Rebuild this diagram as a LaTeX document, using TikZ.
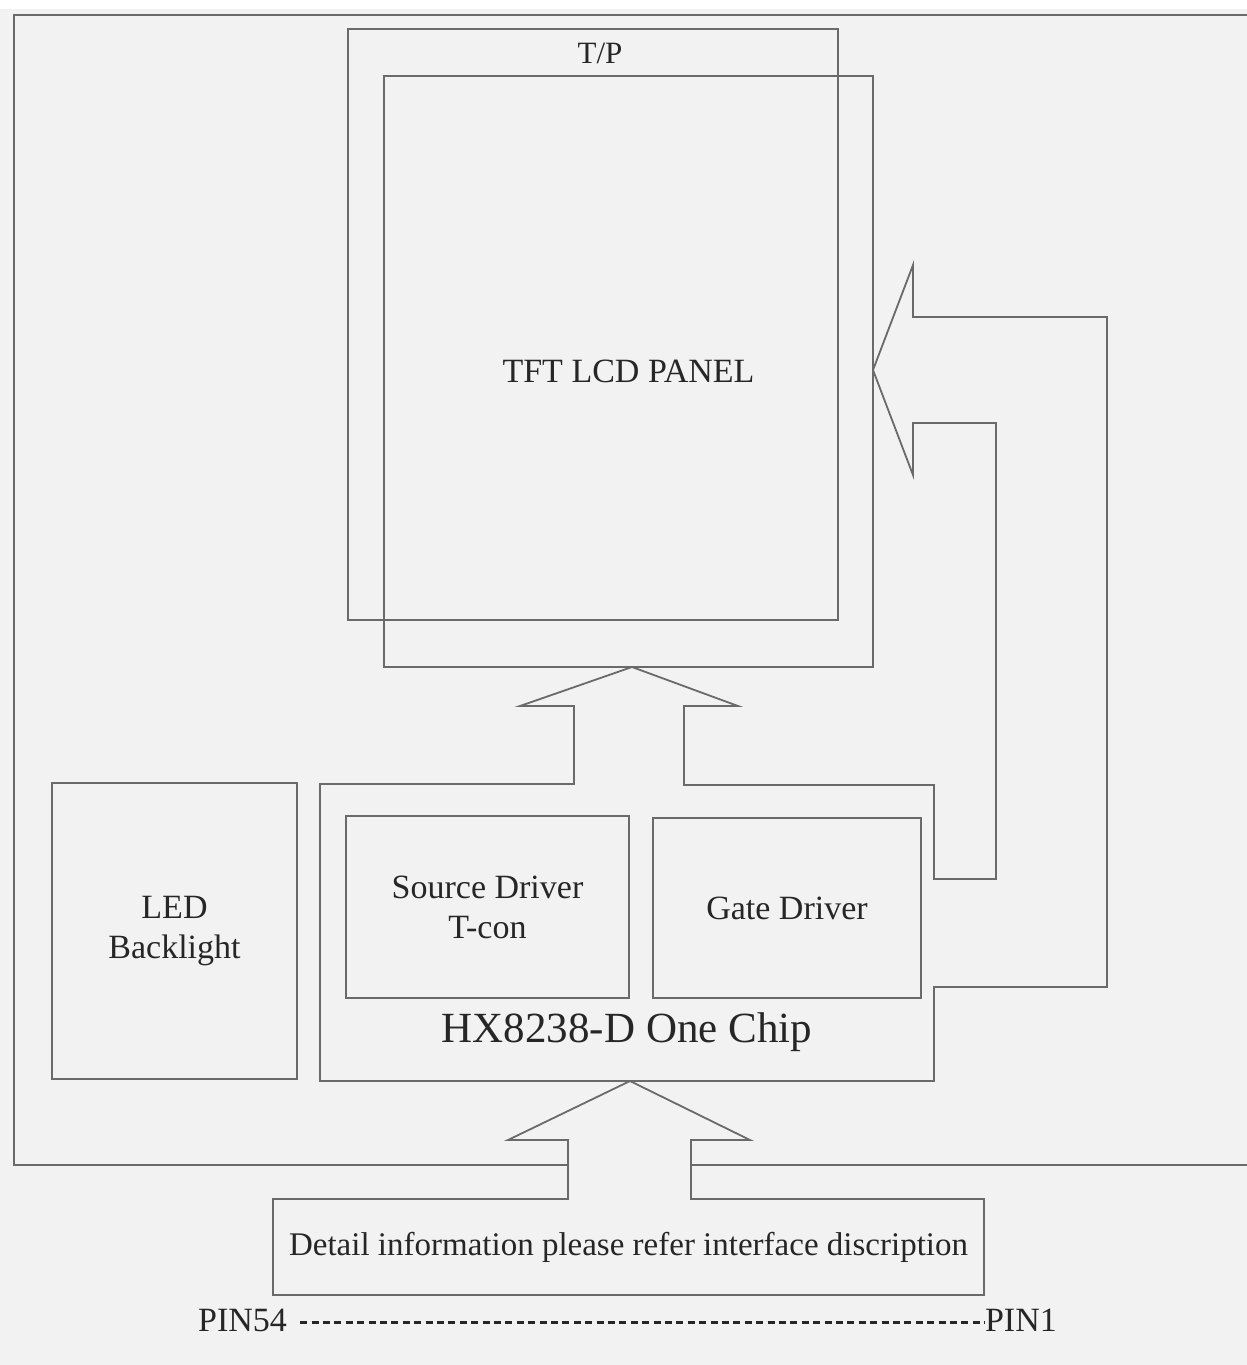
\documentclass[tikz,border=0pt]{standalone}
\usepackage{fontspec}
\setmainfont{Liberation Serif}
\definecolor{bg}{HTML}{F2F2F2}
\definecolor{ln}{HTML}{6A6A6A}
\definecolor{tx}{HTML}{262626}
\begin{document}
\begin{tikzpicture}[x=1pt,y=-1pt,
  outl/.style={draw=ln, line width=1.8pt, line join=miter},
  box/.style={outl, rectangle, inner sep=0pt},
  txt/.style={text=tx, align=center, inner sep=0pt, font=\fontsize{34}{40}\selectfont}]
\fill[bg] (0,0) rectangle (1247,1365);
\useasboundingbox (0,0) rectangle (1247,1365);
\fill[white] (0,0) rectangle (1247,9);

% outer frame (open on the right, gap for the input arrow)
\draw[outl, line width=2.2pt] (568,1165) -- (14,1165) -- (14,15) -- (1247,15);
\draw[outl, line width=2.2pt] (691,1165) -- (1247,1165);

% T/P and panel
\node[box, minimum width=490pt, minimum height=591pt] (tp) at (593,324.5) {};
\node[txt, font=\fontsize{31}{36}\selectfont] (tplabel) at (600,53) {T/P};
\node[box, txt, minimum width=489pt, minimum height=591pt] (panel) at (628.5,371.5) {TFT LCD PANEL};

% LED backlight
\node[box, txt, minimum width=245pt, minimum height=296pt] (led) at (174.5,931) {LED\\Backlight};

% one chip: outline with the up arrow and the gate arrow
\node[inner sep=0pt, minimum width=614pt, minimum height=297pt] (chip) at (627,932.5) {};
\draw[outl] (574,784) -- (320,784) -- (320,1081) -- (934,1081) -- (934,987)
  -- (1107,987) -- (1107,317) -- (913,317) -- (913,265) -- (873,370)
  -- (913,475) -- (913,423) -- (996,423) -- (996,879) -- (934,879)
  -- (934,785) -- (684,785) -- (684,706) -- (738,706) -- (632,667)
  -- (520,706) -- (574,706) -- cycle;
\node[box, txt, minimum width=283pt, minimum height=182pt] (src) at (487.5,907) {Source Driver\\T-con};
\node[box, txt, minimum width=268pt, minimum height=180pt] (gate) at (787,908) {Gate Driver};
\node[txt, font=\fontsize{43}{48}\selectfont] (chiplabel) at (627,1032) {HX8238-D One Chip};

% interface box with input arrow
\draw[outl] (568,1199) -- (273,1199) -- (273,1295) -- (984,1295) -- (984,1199) -- (691,1199)
  -- (691,1140) -- (750,1140) -- (630,1081) -- (508,1140) -- (568,1140) -- cycle;
\node[txt, font=\fontsize{33}{38}\selectfont, minimum width=711pt, minimum height=96pt] (detail) at (628.5,1247)
  {Detail information please refer interface discription};

% pins
\node[txt, anchor=west] (pin54) at (198,1320) {PIN54};
\node[txt, anchor=east] (pin1) at (1057,1320) {PIN1};
\draw[tx, line width=2.6pt, dash pattern=on 7pt off 4.4pt]
  ([xshift=13pt, yshift=-2.5pt]pin54.east) -- ([yshift=-2.5pt]pin1.west);
\end{tikzpicture}
\end{document}
